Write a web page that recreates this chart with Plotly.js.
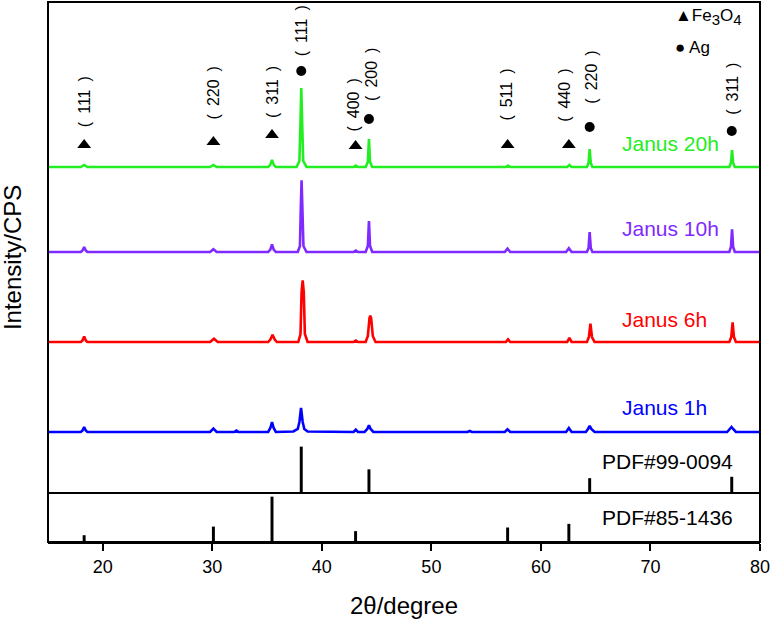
<!DOCTYPE html>
<html>
<head>
<meta charset="utf-8">
<script src="https://cdn.plot.ly/plotly-3.0.1.min.js"></script>
<style>
  html, body { margin: 0; padding: 0; background: #fff; }
  #chart { width: 774px; height: 621px; }
</style>
</head>
<body>
<div id="chart"></div>
<script>
// reference cards
const fe3o4Pos = [18.3, 30.1, 35.45, 43.08, 56.96, 62.55];
const fe3o4Int = [15, 34, 100, 24, 32, 40];
const fe3o4Hkl = ['111', '220', '311', '400', '511', '440'];
const agPos = [38.12, 44.3, 64.45, 77.42];
const agInt = [100, 51, 32, 35];
const agHkl = ['111', '200', '220', '311'];

// measured patterns (2θ, intensity)
const x1h = [15, 18.0, 18.15, 18.3, 18.45, 18.6, 29.8, 30.1, 30.4, 32.0, 32.2, 32.4, 35.1, 35.3, 35.45, 35.6, 35.8,
  37.4, 37.8, 37.95, 38.1, 38.25, 38.4, 38.7, 42.9, 43.1, 43.3, 43.9, 44.15, 44.3, 44.45, 44.7, 53.3, 53.5, 53.7,
  56.7, 56.95, 57.2, 62.3, 62.55, 62.8, 64.1, 64.3, 64.45, 64.6, 64.9, 77.0, 77.25, 77.4, 77.55, 77.8, 80];
const y1h = [0, 0, 1.5, 5, 1.5, 0, 0, 3.4, 0, 0, 1.5, 0, 0, 4, 10, 4, 0,
  0.5, 3, 10, 24, 10, 3, 0.5, 0, 2.4, 0, 0, 3, 6.7, 3, 0, 0, 1, 0,
  0, 2.7, 0, 0, 4, 0, 0, 3, 6, 3, 0, 0, 3, 5, 3, 0, 0];

const x6h = [15, 18.0, 18.15, 18.3, 18.45, 18.6, 29.8, 30.15, 30.5, 35.1, 35.3, 35.5, 35.7, 35.9,
  37.85, 38.05, 38.15, 38.25, 38.35, 38.45, 38.7, 42.9, 43.1, 43.3, 44.0, 44.2, 44.35, 44.42, 44.5, 44.65, 44.9,
  56.8, 57.0, 57.2, 62.4, 62.6, 62.8, 64.2, 64.38, 64.52, 64.66, 64.9, 77.2, 77.38, 77.5, 77.62, 77.8, 80];
const y6h = [0, 0, 1.5, 5.6, 1.5, 0, 0, 3.3, 0, 0, 2.5, 7.3, 2.5, 0,
  0, 8, 50, 61.6, 50, 8, 0, 0, 1.5, 0, 0, 6, 24, 26.3, 24, 6, 0,
  0, 2.6, 0, 0, 4, 0, 0, 5, 18.3, 5, 0, 0, 5, 19.6, 5, 0, 0];

const x10h = [15, 18.0, 18.15, 18.3, 18.45, 18.6, 29.8, 30.1, 30.4, 35.1, 35.3, 35.45, 35.6, 35.8,
  37.8, 38.0, 38.08, 38.15, 38.22, 38.32, 38.6, 42.9, 43.1, 43.3, 44.0, 44.2, 44.3, 44.4, 44.6,
  56.7, 56.95, 57.2, 62.3, 62.55, 62.8, 64.2, 64.35, 64.45, 64.55, 64.7, 77.2, 77.35, 77.45, 77.55, 77.7, 80];
const y10h = [0, 0, 1.5, 5, 1.5, 0, 0, 2.7, 0, 0, 2.5, 7.7, 2.5, 0,
  0, 6, 45, 71.7, 45, 6, 0, 0, 1.5, 0, 0, 6, 31, 6, 0,
  0, 3.4, 0, 0, 3.7, 0, 0, 4, 20, 4, 0, 0, 5, 22.7, 5, 0, 0];

const x20h = [15, 18.0, 18.3, 18.6, 29.8, 30.1, 30.4, 35.1, 35.3, 35.45, 35.6, 35.8,
  37.7, 37.95, 38.05, 38.12, 38.2, 38.3, 38.6, 42.9, 43.1, 43.3, 44.0, 44.2, 44.3, 44.4, 44.6,
  56.8, 57.0, 57.2, 62.4, 62.6, 62.8, 64.2, 64.35, 64.45, 64.55, 64.7, 77.2, 77.35, 77.45, 77.55, 77.7, 80];
const y20h = [0, 0, 2, 0, 0, 2, 0, 0, 2.5, 7, 2.5, 0,
  0, 6, 45, 79, 45, 6, 0, 0, 1.5, 0, 0, 5, 28, 5, 0,
  0, 1.5, 0, 0, 2, 0, 0, 4, 18, 4, 0, 0, 4, 17, 4, 0, 0];

const seriesNames = ['Janus 1h', 'Janus 6h', 'Janus 10h', 'Janus 20h'];
const seriesX = [x1h, x6h, x10h, x20h];
const seriesY = [y1h, y6h, y10h, y20h];

// stacking and annotation placement (top panel units)
const offsets = [10, 100, 190, 275];
const colors = ['#0000ff', '#ff0000', '#7f2aff', '#22ee22'];
const nameY = [34, 122, 214, 299];
const feMarkY = [297, 300, 307, 296, 297, 297];
const feLabelY = [340, 349, 350, 337, 347, 347];
const feLabelShift = [0, 0, 0, -3, -2, -5];
const agMarkY = [371, 323, 315, 311];
const agLabelY = [411, 368, 365, 353];
const agLabelShift = [0, 2, 1, 0];

const FONT = 'Liberation Sans, Arial, sans-serif';

function hklText(h) {
  return '(\u2002' + h + '\u2002)';
}

const traces = [];
seriesNames.forEach((name, i) => {
  traces.push({
    x: seriesX[i],
    y: seriesY[i].map(v => v + offsets[i]),
    type: 'scatter',
    mode: 'lines',
    name: name,
    line: { color: colors[i], width: 2.6 },
    xaxis: 'x',
    yaxis: 'y'
  });
});

traces.push({
  x: fe3o4Pos, y: feMarkY, type: 'scatter', mode: 'markers',
  marker: { symbol: 'triangle-up', size: 12, color: '#000' },
  xaxis: 'x', yaxis: 'y', cliponaxis: false
});
traces.push({
  x: agPos, y: agMarkY, type: 'scatter', mode: 'markers',
  marker: { symbol: 'circle', size: 10, color: '#000' },
  xaxis: 'x', yaxis: 'y', cliponaxis: false
});

traces.push({
  x: agPos, y: agInt, type: 'bar', width: 0.27,
  marker: { color: '#000', line: { width: 0 } },
  xaxis: 'x', yaxis: 'y2'
});
traces.push({
  x: fe3o4Pos, y: fe3o4Int, type: 'bar', width: 0.27,
  marker: { color: '#000', line: { width: 0 } },
  xaxis: 'x', yaxis: 'y3'
});

const annotations = [];
seriesNames.forEach((name, i) => {
  annotations.push({
    x: 67.2, y: nameY[i], xref: 'x', yref: 'y', text: name,
    showarrow: false, xanchor: 'left', yanchor: 'middle',
    font: { family: FONT, size: 21, color: colors[i] }
  });
});
fe3o4Hkl.forEach((h, i) => {
  annotations.push({
    x: fe3o4Pos[i], y: feLabelY[i], xref: 'x', yref: 'y', text: hklText(h),
    showarrow: false, textangle: -90, xshift: feLabelShift[i],
    xanchor: 'center', yanchor: 'middle',
    font: { family: FONT, size: 16, color: '#000' }
  });
});
agHkl.forEach((h, i) => {
  annotations.push({
    x: agPos[i], y: agLabelY[i], xref: 'x', yref: 'y', text: hklText(h),
    showarrow: false, textangle: -90, xshift: agLabelShift[i],
    xanchor: 'center', yanchor: 'middle',
    font: { family: FONT, size: 16, color: '#000' }
  });
});
annotations.push({
  x: 65.4, y: 69, xref: 'x', yref: 'y2', text: 'PDF#99-0094',
  showarrow: false, xanchor: 'left', yanchor: 'middle',
  font: { family: FONT, size: 21, color: '#000' }
});
annotations.push({
  x: 65.4, y: 53, xref: 'x', yref: 'y3', text: 'PDF#85-1436',
  showarrow: false, xanchor: 'left', yanchor: 'middle',
  font: { family: FONT, size: 21, color: '#000' }
});
annotations.push({
  x: 0.8775, y: 0.972, xref: 'paper', yref: 'paper',
  text: '▲Fe<sub><span style="font-size:15px">3</span></sub>O<sub><span style="font-size:15px">4</span></sub>',
  showarrow: false, xanchor: 'left', yanchor: 'middle',
  font: { family: FONT, size: 17, color: '#000' }
});
annotations.push({
  x: 0.8775, y: 0.9154, xref: 'paper', yref: 'paper',
  text: '● Ag', showarrow: false,
  xanchor: 'left', yanchor: 'middle',
  font: { family: FONT, size: 17, color: '#000' }
});
annotations.push({
  x: -0.049, y: 0.526, xref: 'paper', yref: 'paper',
  text: 'Intensity/CPS', showarrow: false, textangle: -90,
  xanchor: 'center', yanchor: 'middle',
  font: { family: FONT, size: 24, color: '#000' }
});

const hiddenY = {
  showticklabels: false, showgrid: false, zeroline: false,
  ticks: '', showline: false, fixedrange: true
};

const layout = {
  width: 774,
  height: 621,
  margin: { l: 48, r: 14, t: 2, b: 79 },
  paper_bgcolor: '#fff',
  plot_bgcolor: '#fff',
  showlegend: false,
  font: { family: FONT, color: '#000' },
  xaxis: {
    range: [15, 80],
    anchor: 'y3',
    tickvals: [20, 30, 40, 50, 60, 70, 80],
    ticks: 'outside',
    ticklen: 7,
    tickwidth: 2,
    tickcolor: '#000',
    showline: true,
    linewidth: 2,
    linecolor: '#000',
    showgrid: false,
    zeroline: false,
    tickfont: { family: FONT, size: 18, color: '#000' },
    title: { text: '2θ/degree', font: { family: FONT, size: 24, color: '#000' }, standoff: 22 }
  },
  yaxis: Object.assign({ domain: [0.1852, 1], range: [0, 440], anchor: 'x' }, hiddenY),
  yaxis2: Object.assign({ domain: [0.0907, 0.1852], range: [0, 110], anchor: 'x' }, hiddenY),
  yaxis3: Object.assign({ domain: [0, 0.0907], range: [0, 108], anchor: 'x' }, hiddenY),
  shapes: [
    { type: 'rect', xref: 'paper', yref: 'paper', x0: 0, x1: 1, y0: 0, y1: 1,
      line: { color: '#000', width: 2 } },
    { type: 'line', xref: 'paper', yref: 'paper', x0: 0, x1: 1, y0: 0.0907, y1: 0.0907,
      line: { color: '#000', width: 2 } }
  ],
  annotations: annotations
};

Plotly.newPlot('chart', traces, layout, { displayModeBar: false, staticPlot: true });
</script>
</body>
</html>
